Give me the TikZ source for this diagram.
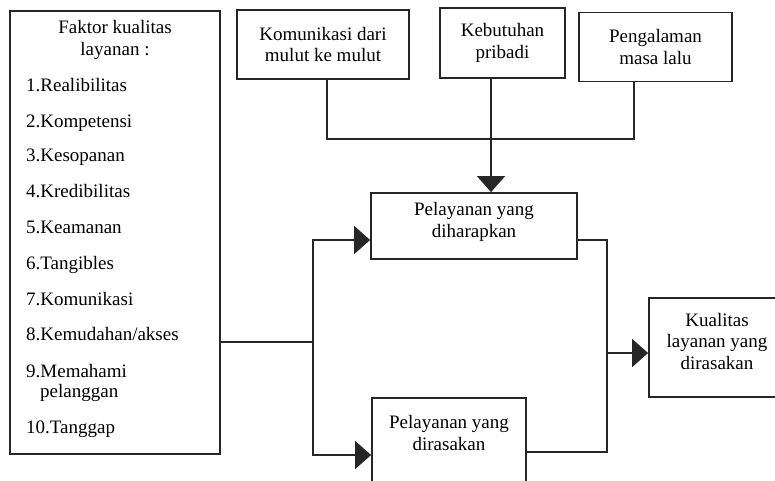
\documentclass[tikz,border=0pt]{standalone}
\usepackage{fontspec}
\setmainfont{Liberation Serif}
\usetikzlibrary{arrows.meta}
\begin{document}
\begin{tikzpicture}[x=1pt,y=-1pt,
  box/.style={draw=black!85, line width=1.8pt, rectangle, inner sep=0pt},
  txt/.style={font=\fontsize{19}{21.5}\selectfont, align=center, inner sep=0pt},
  item/.style={font=\fontsize{19}{20.5}\selectfont, align=left, anchor=west, inner sep=0pt, text height=13pt, text depth=4pt},
  conn/.style={draw=black!85, line width=1.4pt},
  arr/.style={conn, -{Triangle[length=16pt, width=28pt]}}]
\useasboundingbox (0,0) rectangle (775,480);
\clip (0,0) rectangle (775,480);
\fill[white] (0,0) rectangle (775,480);

% quality factors box
\node[box, minimum width=210pt, minimum height=443pt] (faktor) at (115,232.5) {};
\node[txt] (fhead) at (115,40) {Faktor kualitas\\layanan :};
\node[item] (f1) at (26,87) {1.Realibilitas};
\node[item] (f2) at (26,123) {2.Kompetensi};
\node[item] (f3) at (26,157) {3.Kesopanan};
\node[item] (f4) at (26,193) {4.Kredibilitas};
\node[item] (f5) at (26,229) {5.Keamanan};
\node[item] (f6) at (26,265) {6.Tangibles};
\node[item] (f7) at (26,301) {7.Komunikasi};
\node[item] (f8) at (26,336) {8.Kemudahan/akses};
\node[item] (f9) at (26,373) {9.Memahami};
\node[item] (f9b) at (40,393) {pelanggan};
\node[item] (f10) at (26,429) {10.Tanggap};

% expectation sources
\node[box, minimum width=172pt, minimum height=69pt, txt] (kom) at (323,44.5) {Komunikasi dari\\mulut ke mulut};
\node[box, minimum width=125pt, minimum height=70pt, txt] (keb) at (502.5,43) {Kebutuhan\\pribadi};
\node[box, minimum width=153pt, minimum height=69pt, txt] (pen) at (655.5,47) {Pengalaman\\masa lalu};

% service boxes
\node[box, minimum width=206pt, minimum height=66pt] (harap) at (474,226) {};
\node[txt] (haraptxt) at (474,222) {Pelayanan yang\\diharapkan};
\node[box, minimum width=154pt, minimum height=100pt] (rasa) at (449,448) {};
\node[txt] (rasatxt) at (449,433) {Pelayanan yang\\dirasakan};
\node[box, minimum width=132pt, minimum height=99pt] (kual) at (715,347.5) {};
\node[txt] (kualtxt) at (717,341) {Kualitas\\layanan yang\\dirasakan};

% joints
\coordinate (tl) at (327,139);
\coordinate (tr) at (634,139);
\coordinate (tj) at (491,139);
\coordinate (lj) at (313,342);
\coordinate (lt) at (313,240);
\coordinate (lb) at (313,455);
\coordinate (rt) at (607,240);
\coordinate (rb) at (607,452);
\coordinate (rm) at (607,353);

% top merge into expected service
\draw[conn] (tl |- kom.south) -- (tl) -- (tr) -- (tr |- pen.south);
\draw[arr] (tj |- keb.south) -- (tj |- harap.north);

% factors feed both service boxes
\draw[conn] (faktor.east |- lj) -- (lj);
\draw[arr] (lj) -- (lt) -- (lt -| harap.west);
\draw[arr] (lj) -- (lb) -- (lb -| rasa.west);

% both service boxes lead to perceived quality
\draw[conn] (rt -| harap.east) -- (rt) -- (rb) -- (rb -| rasa.east);
\draw[arr] (rm) -- (rm -| kual.west);
\end{tikzpicture}
\end{document}
